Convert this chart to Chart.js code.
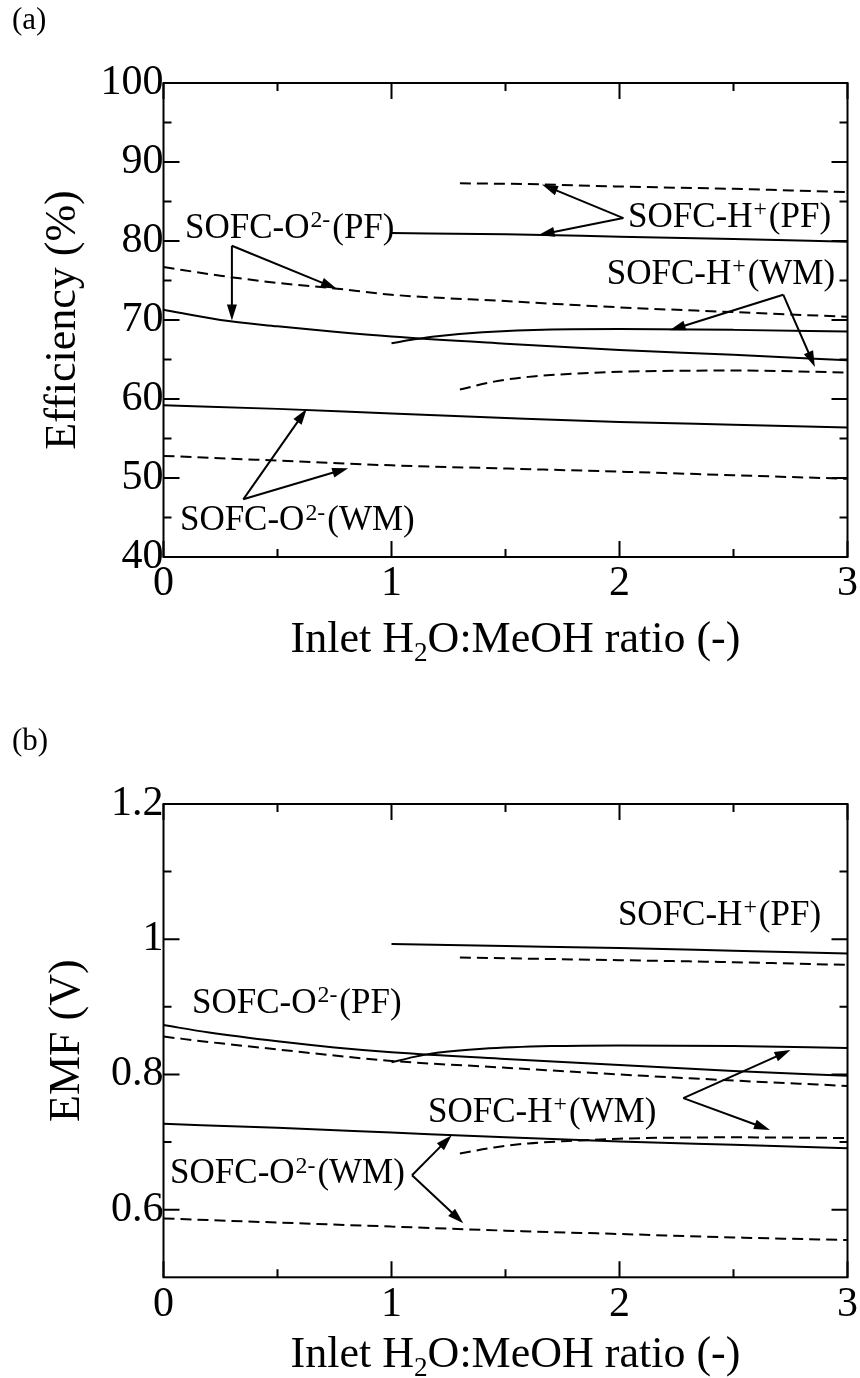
<!DOCTYPE html>
<html>
<head>
<meta charset="utf-8">
<script src="https://cdn.jsdelivr.net/npm/chart.js@4.4.1/dist/chart.umd.min.js"></script>
<style>
  body { margin: 0; background: #fff; width: 860px; height: 1378px; overflow: hidden; position: relative; }
  canvas { position: absolute; left: 0; }
  #chartA { top: 0; }
  #chartB { top: 721px; }
</style>
</head>
<body>
<canvas id="chartA" width="860" height="721"></canvas>
<canvas id="chartB" width="860" height="657"></canvas>
<script>
const FONT = '"Liberation Serif", "Times New Roman", serif';

// 軸の目盛り
const xMajor = [0, 1, 2, 3];
const xMinor = [0.5, 1.5, 2.5];
const yMajorA = [40, 50, 60, 70, 80, 90, 100];
const yMinorA = [45, 55, 65, 75, 85, 95];
const yMajorB = [0.6, 0.8, 1.0, 1.2];
const yMinorB = [0.7, 0.9, 1.1];

// x の値 (H2O:MeOH 比)
const xO2 = [0, 0.25, 0.5, 0.75, 1, 1.5, 2, 2.5, 3];
const xO2wm = [0, 0.5, 1, 1.5, 2, 2.5, 3];
const xHpfSolid = [1, 1.5, 2, 2.5, 3];
const xHpfDash = [1.3, 1.6, 2, 2.5, 3];
const xHwmSolid = [1, 1.1, 1.2, 1.4, 1.7, 2, 2.5, 3];
const xHwmDash = [1.3, 1.45, 1.6, 1.8, 2, 2.5, 3];

// (a) Efficiency (%)
const effO2pfSolid = [71.3, 70.0, 69.2, 68.5, 67.9, 67.0, 66.2, 65.6, 64.9];
const effO2pfDash = [76.7, 75.6, 74.7, 74.0, 73.2, 72.4, 71.6, 71.0, 70.4];
const effHpfSolid = [81.0, 80.85, 80.55, 80.25, 79.9];
const effHpfDash = [87.3, 87.2, 86.9, 86.6, 86.2];
const effHwmSolid = [67.05, 67.55, 67.95, 68.45, 68.8, 68.85, 68.75, 68.55];
const effHwmDash = [61.2, 62.2, 62.8, 63.2, 63.45, 63.6, 63.35];
const effO2wmSolid = [59.2, 58.75, 58.15, 57.6, 57.1, 56.75, 56.4];
const effO2wmDash = [52.8, 52.2, 51.6, 51.2, 50.8, 50.35, 49.9];

// (b) EMF (V)
const xO2pfB = [0, 0.2, 0.5, 0.75, 1, 1.5, 2, 2.5, 3];
const xHpfDashB = [1.3, 2, 2.5, 3];
const emfO2pfSolid = [0.873, 0.862, 0.849, 0.840, 0.833, 0.823, 0.814, 0.805, 0.798];
const emfO2pfDash = [0.856, 0.846, 0.837, 0.828, 0.820, 0.810, 0.800, 0.791, 0.783];
const emfHpfSolid = [0.993, 0.990, 0.987, 0.983, 0.979];
const emfHpfDash = [0.973, 0.969, 0.966, 0.962];
const emfHwmSolid = [0.818, 0.826, 0.832, 0.838, 0.842, 0.843, 0.842, 0.839];
const emfHwmDash = [0.683, 0.692, 0.698, 0.702, 0.705, 0.707, 0.706];
const emfO2wmSolid = [0.727, 0.721, 0.714, 0.707, 0.701, 0.696, 0.691];
const emfO2wmDash = [0.587, 0.581, 0.575, 0.569, 0.564, 0.559, 0.555];

// ラベル (上付き文字つき)
const lblO2pf = [['SOFC-O'], ['2-', 'sup'], ['(PF)']];
const lblO2wm = [['SOFC-O'], ['2-', 'sup'], ['(WM)']];
const lblHpf = [['SOFC-H'], ['+', 'sup'], ['(PF)']];
const lblHwm = [['SOFC-H'], ['+', 'sup'], ['(WM)']];
const xTitle = [['Inlet H'], ['2', 'sub'], ['O:MeOH ratio (-)']];

// 注釈の位置 (データ座標)
const notesA = [
    { at: [0.094, 80.4], parts: lblO2pf },
    { at: [2.037, 81.8], parts: lblHpf },
    { at: [1.944, 74.6], parts: lblHwm },
    { at: [0.072, 43.4], parts: lblO2wm }
];
const arrowsA = [
    [[0.30, 79.4], [0.30, 69.95]],
    [[0.30, 79.4], [0.76, 73.95]],
    [[2.017, 82.9], [1.66, 87.15]],
    [[2.017, 82.9], [1.645, 80.75]],
    [[2.718, 73.2], [2.22, 68.7]],
    [[2.718, 73.2], [2.857, 64.05]],
    [[0.35, 47.3], [0.628, 58.75]],
    [[0.35, 47.3], [0.81, 51.25]]
];
const notesB = [
    { at: [1.993, 1.0214], parts: lblHpf },
    { at: [0.125, 0.891], parts: lblO2pf },
    { at: [1.16, 0.730], parts: lblHwm },
    { at: [0.029, 0.639], parts: lblO2wm }
];
const arrowsB = [
    [[2.28, 0.765], [2.75, 0.836]],
    [[2.28, 0.765], [2.66, 0.718]],
    [[1.09, 0.651], [1.264, 0.71]],
    [[1.09, 0.651], [1.315, 0.58]]
];

function pts(xs, ys) {
    return xs.map((x, i) => ({ x: x, y: ys[i] }));
}

function lineSet(xs, ys, dashed) {
    return {
        data: pts(xs, ys),
        borderColor: '#000',
        borderWidth: 2,
        borderDash: dashed ? [11, 6] : [],
        pointRadius: 0,
        cubicInterpolationMode: 'monotone',
        fill: false
    };
}

function drawRich(ctx, parts, x, y, size, align) {
    const gap = p => (p[1] === 'sup' ? 3 : 0);
    const fs = p => (p[1] === 'sup' ? size * 0.68 : p[1] === 'sub' ? size * 0.62 : size);
    let w = 0;
    parts.forEach(p => {
        ctx.font = fs(p) + 'px ' + FONT;
        w += ctx.measureText(p[0]).width + gap(p);
    });
    let cx = align === 'center' ? x - w / 2 : x;
    ctx.textAlign = 'left';
    ctx.textBaseline = 'alphabetic';
    parts.forEach(p => {
        ctx.font = fs(p) + 'px ' + FONT;
        let dy = 0;
        if (p[1] === 'sup') dy = -size * 0.3;
        if (p[1] === 'sub') dy = size * 0.2;
        ctx.fillText(p[0], cx + (p[1] === 'sup' ? 1 : 0), y + dy);
        cx += ctx.measureText(p[0]).width + gap(p);
    });
}

function drawArrow(ctx, x1, y1, x2, y2) {
    const ang = Math.atan2(y2 - y1, x2 - x1);
    const L = 16, W = 5;
    const c = Math.cos(ang), s = Math.sin(ang);
    ctx.beginPath();
    ctx.moveTo(x1, y1);
    ctx.lineTo(x2 - c * L * 0.8, y2 - s * L * 0.8);
    ctx.stroke();
    ctx.beginPath();
    ctx.moveTo(x2, y2);
    ctx.lineTo(x2 - L * c + W * s, y2 - L * s - W * c);
    ctx.lineTo(x2 - L * c - W * s, y2 - L * s + W * c);
    ctx.closePath();
    ctx.fill();
}

// 枠・内向きの目盛り・注釈・軸タイトル
const decor = {
    id: 'decor',
    afterDraw(chart, args, o) {
        const ctx = chart.ctx;
        const a = chart.chartArea;
        const sx = chart.scales.x, sy = chart.scales.y;
        ctx.save();
        ctx.strokeStyle = '#000';
        ctx.fillStyle = '#000';
        ctx.lineWidth = 2;
        ctx.strokeRect(a.left, a.top, a.right - a.left, a.bottom - a.top);

        const xTick = (v, len) => {
            const px = sx.getPixelForValue(v);
            ctx.beginPath();
            ctx.moveTo(px, a.bottom); ctx.lineTo(px, a.bottom - len);
            ctx.moveTo(px, a.top); ctx.lineTo(px, a.top + len);
            ctx.stroke();
        };
        const yTick = (v, len) => {
            const py = sy.getPixelForValue(v);
            ctx.beginPath();
            ctx.moveTo(a.left, py); ctx.lineTo(a.left + len, py);
            ctx.moveTo(a.right, py); ctx.lineTo(a.right - len, py);
            ctx.stroke();
        };
        xMajor.forEach(v => xTick(v, 16));
        xMinor.forEach(v => xTick(v, 8));
        o.yMajor.forEach(v => yTick(v, 16));
        o.yMinor.forEach(v => yTick(v, 8));

        o.notes.forEach(n => {
            drawRich(ctx, n.parts, sx.getPixelForValue(n.at[0]), sy.getPixelForValue(n.at[1]), 35, 'left');
        });
        o.arrows.forEach(ar => {
            drawArrow(ctx,
                sx.getPixelForValue(ar[0][0]), sy.getPixelForValue(ar[0][1]),
                sx.getPixelForValue(ar[1][0]), sy.getPixelForValue(ar[1][1]));
        });

        // x 軸タイトル
        drawRich(ctx, xTitle, (a.left + a.right) / 2 + 10, o.xTitleY, 44, 'center');

        // y 軸タイトル
        ctx.save();
        ctx.translate(o.yTitleX, (a.top + a.bottom) / 2);
        ctx.rotate(-Math.PI / 2);
        ctx.font = '44px ' + FONT;
        ctx.textAlign = 'center';
        ctx.textBaseline = 'alphabetic';
        ctx.fillText(o.yTitle, 0, 0);
        ctx.restore();

        // パネル記号
        ctx.font = '31px ' + FONT;
        ctx.textAlign = 'left';
        ctx.fillText(o.panel, 12, 29);
        ctx.restore();
    }
};

function makeChart(id, datasets, yMin, yMax, yMajor, xAxisHeight, decorOpts) {
    return new Chart(document.getElementById(id), {
        type: 'line',
        data: { datasets: datasets },
        options: {
            responsive: false,
            animation: false,
            events: [],
            layout: {
                autoPadding: false,
                padding: { left: 0, right: 12.3, top: 83, bottom: 0 }
            },
            plugins: {
                legend: { display: false },
                tooltip: { enabled: false },
                decor: decorOpts
            },
            scales: {
                x: {
                    type: 'linear',
                    min: 0,
                    max: 3,
                    afterBuildTicks: s => { s.ticks = xMajor.map(v => ({ value: v })); },
                    afterFit: s => { s.height = xAxisHeight; },
                    grid: { display: false, drawTicks: false },
                    border: { display: false },
                    ticks: {
                        font: { family: FONT, size: 42 },
                        color: '#000',
                        padding: 2,
                        maxRotation: 0,
                        autoSkip: false,
                        callback: v => String(v)
                    }
                },
                y: {
                    type: 'linear',
                    min: yMin,
                    max: yMax,
                    afterBuildTicks: s => { s.ticks = yMajor.map(v => ({ value: v })); },
                    afterFit: s => { s.width = 163.5; },
                    grid: { display: false, drawTicks: false },
                    border: { display: false },
                    ticks: {
                        font: { family: FONT, size: 42 },
                        color: '#000',
                        padding: 0,
                        autoSkip: false,
                        callback: v => String(v)
                    }
                }
            }
        },
        plugins: [decor]
    });
}

makeChart('chartA', [
    lineSet(xHpfDash, effHpfDash, true),
    lineSet(xHpfSolid, effHpfSolid, false),
    lineSet(xO2, effO2pfDash, true),
    lineSet(xO2, effO2pfSolid, false),
    lineSet(xHwmSolid, effHwmSolid, false),
    lineSet(xHwmDash, effHwmDash, true),
    lineSet(xO2wm, effO2wmSolid, false),
    lineSet(xO2wm, effO2wmDash, true)
], 40, 100, yMajorA, 164, {
    yMajor: yMajorA, yMinor: yMinorA, notes: notesA, arrows: arrowsA,
    xTitleY: 652, yTitleX: 75, yTitle: 'Efficiency (%)', panel: '(a)'
});

makeChart('chartB', [
    lineSet(xHpfSolid, emfHpfSolid, false),
    lineSet(xHpfDashB, emfHpfDash, true),
    lineSet(xO2pfB, emfO2pfSolid, false),
    lineSet(xO2, emfO2pfDash, true),
    lineSet(xHwmSolid, emfHwmSolid, false),
    lineSet(xHwmDash, emfHwmDash, true),
    lineSet(xO2wm, emfO2wmSolid, false),
    lineSet(xO2wm, emfO2wmDash, true)
], 0.5, 1.2, yMajorB, 100.7, {
    yMajor: yMajorB, yMinor: yMinorB, notes: notesB, arrows: arrowsB,
    xTitleY: 646, yTitleX: 79, yTitle: 'EMF (V)', panel: '(b)'
});
</script>
</body>
</html>
